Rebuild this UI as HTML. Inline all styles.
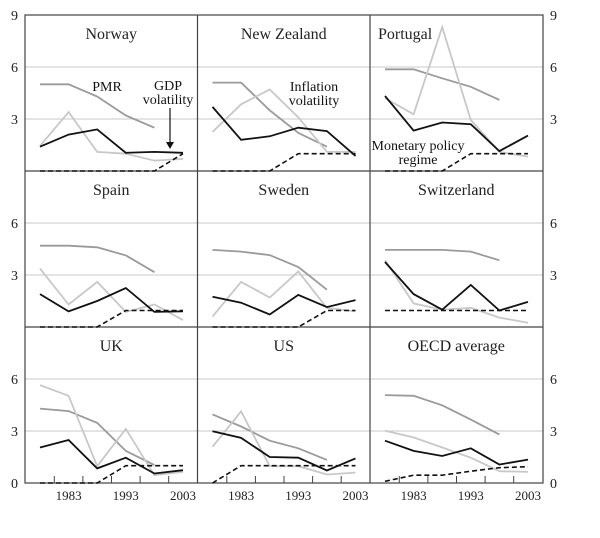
<!DOCTYPE html>
<html><head><meta charset="utf-8"><style>
body{margin:0;background:#fff;}
svg{display:block;font-family:"Liberation Serif",serif;}
</style></head><body>
<svg id="chart" width="600" height="538" xmlns="http://www.w3.org/2000/svg"></svg>
<script>
const panels = ["Norway","New Zealand","Portugal","Spain","Sweden","Switzerland","UK","US","OECD average"];
const years = [1978,1983,1988,1993,1998,2003];
const pmr = [
 [5.0,5.0,4.3,3.2,2.5],[5.1,5.1,3.5,2.2,1.4],[5.87,5.87,5.35,4.86,4.1],
 [4.69,4.69,4.6,4.13,3.16],[4.45,4.35,4.15,3.46,2.15],[4.45,4.45,4.45,4.35,3.85],
 [4.29,4.15,3.47,1.85,1.03],[3.96,3.26,2.44,2.0,1.33],[5.07,5.03,4.48,3.66,2.79]];
const inflation = [
 [1.45,3.4,1.1,1.0,0.6,0.7],[2.25,3.85,4.7,3.1,1.1,1.1],[4.2,3.27,8.3,2.94,1.1,0.83],
 [3.37,1.3,2.6,0.87,1.3,0.4],[0.6,2.6,1.7,3.2,1.1,0.9],[3.85,1.36,1.0,1.1,0.54,0.25],
 [5.65,5.03,0.97,3.12,0.45,0.64],[2.09,4.13,0.97,0.97,0.49,0.6],[3.02,2.63,2.05,1.46,0.68,0.64]];
const gdp = [
 [1.4,2.1,2.4,1.05,1.1,1.05],[3.7,1.8,2.0,2.5,2.3,0.87],[4.33,2.33,2.8,2.7,1.15,2.04],
 [1.9,0.9,1.5,2.25,0.87,0.9],[1.74,1.4,0.72,1.85,1.15,1.55],[3.75,1.9,1.0,2.43,0.95,1.45],
 [2.05,2.48,0.84,1.46,0.55,0.74],[2.98,2.6,1.5,1.46,0.72,1.42],[2.44,1.85,1.56,2.0,1.07,1.35]];
const regime = [
 [0,0,0,0,0,1.0],[0,0,0,1,1,1],[0,0,0,1,1,1],
 [0,0,0,0.95,0.95,0.95],[0,0,0,0,0.95,0.95],[0.95,0.95,0.95,0.95,0.95,0.95],
 [0,0,0,1,1,1],[0,1,1,1,1,1],[0.1,0.45,0.45,0.68,0.88,0.94]];
const tickLabels = ["1983","1993","2003"];

const svg = document.getElementById('chart');
const NS = "http://www.w3.org/2000/svg";
const colL = [25,197.5,370], colW = 172.5, rowBase = [171,327,483], unit = 52/3;
function X(c, yr){ return colL[c] + 15 + (yr-1978)*5.72; }
function Y(r, v){ return rowBase[r] - v*unit; }
function mk(tag, attrs, parent){ const e=document.createElementNS(NS,tag); for(const k in attrs) e.setAttribute(k,attrs[k]); (parent||svg).appendChild(e); return e; }

// gridlines
for (let r=0;r<3;r++) for (const v of [3,6]) {
  const g = mk('line',{x1:25,x2:543,y1:Y(r,v),y2:Y(r,v),stroke:'#c8c8c8','stroke-width':1});
  
  
}
// frame
const fr = mk('rect',{x:25,y:15,width:518,height:468,fill:'none',stroke:'#444','stroke-width':1.2});


for (const y of [171,327]) { const l=mk('line',{x1:25,x2:543,y1:y,y2:y,stroke:'#444','stroke-width':1.2});   }
for (const x of [197.5,370]) { const l=mk('line',{x1:x,x2:x,y1:15,y2:483,stroke:'#444','stroke-width':1.2});   }

// y labels
function ylab(x,y,t,anchor){ const e=mk('text',{x:x,y:y+5,'font-size':14,'text-anchor':anchor,fill:'#222'}); e.textContent=t;   }
[[15,'9'],[67,'6'],[119,'3'],[223,'6'],[275,'3'],[379,'6'],[431,'3'],[483,'0']].forEach(a=>{ ylab(18,a[0],a[1],'end'); ylab(550,a[0],a[1],'start'); });

// x ticks and labels
for (let c=0;c<3;c++){
  for (let i=0;i<5;i++){ const xx=X(c,years[i]+2.5); const t=mk('line',{x1:xx,x2:xx,y1:483,y2:476,stroke:'#444','stroke-width':1});   }
  tickLabels.forEach(l=>{ const e=mk('text',{x:X(c,+l),y:500,'font-size':13,'text-anchor':'middle',fill:'#222'}); e.textContent=l;   });
}

function path(c,r,vals,style,name){
  const d = vals.map((v,i)=>(i?'L':'M')+X(c,years[i]).toFixed(1)+' '+Y(r,v).toFixed(1)).join(' ');
  const p = mk('path',Object.assign({d:d,fill:'none'},style));
  
  
}
panels.forEach((name,i)=>{
  const c=i%3, r=Math.floor(i/3);
  path(c,r,pmr[i],{stroke:'#9a9a9a','stroke-width':1.8},'pmr-line');
  path(c,r,inflation[i],{stroke:'#c8c8c8','stroke-width':1.8},'inflation-volatility-line');
  path(c,r,gdp[i],{stroke:'#111','stroke-width':1.8},'gdp-volatility-line');
  path(c,r,regime[i],{stroke:'#111','stroke-width':1.6,'stroke-dasharray':'5,3'},'monetary-regime-line');
  const left = name==='Portugal';
  const t=mk('text',{x:left?colL[c]+8:colL[c]+colW/2,y:rowBase[r]-156+24,'font-size':16,'text-anchor':left?'start':'middle',fill:'#222'});
  t.textContent=name;
  
  
});

function ann(x,y,lines){ lines.forEach((s,k)=>{ const e=mk('text',{x:x,y:y+k*14,'font-size':14,'text-anchor':'middle',fill:'#111'}); e.textContent=s;   }); }
ann(107,91,['PMR']);
ann(168,90,['GDP','volatility']);
ann(314,91,['Inflation','volatility']);
ann(418,150,['Monetary policy','regime']);
const ar=mk('line',{x1:170,x2:170,y1:108,y2:143,stroke:'#111','stroke-width':1.2});


const ah=mk('path',{d:'M166 142 L174 142 L170 149 Z',fill:'#111'});


</script>
</body></html>
